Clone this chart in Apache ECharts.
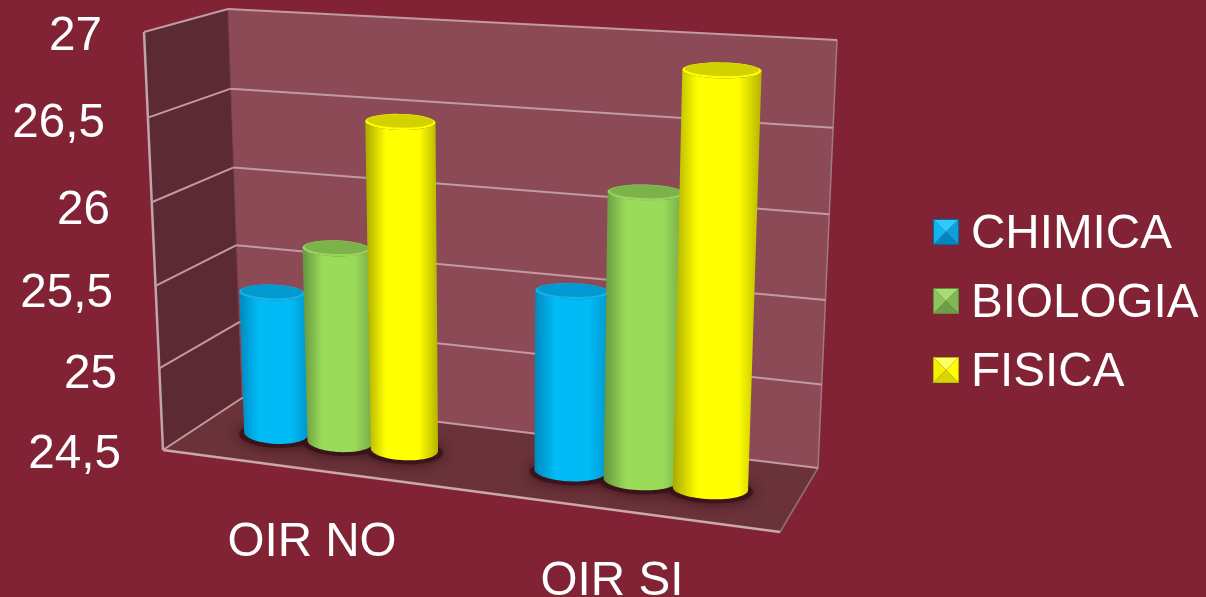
<!DOCTYPE html>
<html><head><meta charset="utf-8">
<style>html,body{margin:0;padding:0;background:#812335}#c{width:1206px;height:597px}</style>
<script src="https://cdn.jsdelivr.net/npm/echarts@6/dist/echarts.min.js"></script>
</head><body><div id="c"></div>
<script>
const categories = ['OIR NO', 'OIR SI'];
const chimica = [25.38, 25.57];
const biologia = [25.69, 26.18];
const fisica = [26.48, 26.9];
const yTicks = [24.5, 25, 25.5, 26, 26.5, 27];
const yTickLabels = ['24,5', '25', '25,5', '26', '26,5', '27'];
const seriesNames = ['CHIMICA', 'BIOLOGIA', 'FISICA'];
const seriesValues = [chimica, biologia, fisica];

// styling
const BG = '#812335';
const FONT = '"Liberation Sans", Arial, sans-serif';
const FS = 47.6;
const paints = [
  {edgeL:'#0088BE', mid:'#00BBF6', edgeR:'#0096CE', cap:'#0099D0', rim:'#12B6EE'},
  {edgeL:'#64963E', mid:'#9BDB5A', edgeR:'#74A848', cap:'#7CB24A', rim:'#9AD45E'},
  {edgeL:'#A8A800', mid:'#FFFF00', edgeR:'#B4B400', cap:'#D2D200', rim:'#FFFF00'}
];
const facets = [
  ['#2BCBFF','#10B5EE','#0C9FD8','#0087C0','#006D9F'],
  ['#A8DC72','#8CC460','#80B858','#6E9F48','#5F8F3C'],
  ['#FFFF66','#F0F000','#FFFF00','#D6D600','#B8B800']
];
function iconUri(f){
  const s = '<svg xmlns="http://www.w3.org/2000/svg" width="26" height="26">'
   + '<polygon points="0,0 26,0 13,13" fill="'+f[0]+'"/><polygon points="0,0 0,26 13,13" fill="'+f[1]+'"/>'
   + '<polygon points="26,0 26,26 13,13" fill="'+f[2]+'"/><polygon points="0,26 26,26 13,13" fill="'+f[3]+'"/>'
   + '<rect x=".5" y=".5" width="25" height="25" fill="none" stroke="'+f[4]+'"/></svg>';
  return 'image://data:image/svg+xml;charset=utf-8,' + encodeURIComponent(s);
}

// perspective box: screen corners of the 3D chart frame
const C = {
  flb:[163,450], frb:[780,532], blb:[242,398], brb:[818,468],
  flt:[144,32],  frt:[795,76],  blt:[228,9],   brt:[837,40]
};
function lerp(a,b,t){return a+(b-a)*t;}
function lerp2(a,b,t){return [lerp(a[0],b[0],t),lerp(a[1],b[1],t)];}
function project(u,v,w){
  const vv = v - 0.03*v*(1-v);
  const fb = lerp2(C.flb,C.frb,u), bb = lerp2(C.blb,C.brb,u);
  const ft = lerp2(C.flt,C.frt,u), bt = lerp2(C.blt,C.brt,u);
  return lerp2(lerp2(fb,ft,vv), lerp2(bb,bt,vv), w);
}
function toUV(pt,cs){
  return [(pt[0]-cs.x)/cs.width, (cs.y+cs.height-pt[1])/cs.height];
}
function ellipse(cx,cy,hx,hy,ry,from,to,n){
  const out=[];
  for(let i=0;i<=n;i++){
    const t=from+(to-from)*i/n;
    out.push([cx+Math.cos(t)*hx, cy+Math.cos(t)*hy*0.3+Math.sin(t)*ry]);
  }
  return out;
}
const BAR_DEPTH = 0.5, U_SHIFT = [-0.019,-0.016], BAR_STEP = [0.215,0.235];
function barGeom(api,params,si){
  const cs = params.coordSys;
  const ci = api.value(0);
  const top = api.coord([ci,api.value(1)]);
  const base = api.coord([ci,yTicks[0]]);
  const band = api.size([1,0])[0];
  const x = top[0] + (si-1)*BAR_STEP[ci]*band;
  const u = toUV([x,top[1]],cs)[0] + U_SHIFT[ci];
  const vTop = toUV(top,cs)[1], vBase = toUV(base,cs)[1];
  const r = 0.052 + 0.013*u;
  return {
    tl:project(u-r,vTop,BAR_DEPTH), tr:project(u+r,vTop,BAR_DEPTH),
    bl:project(u-r,vBase,BAR_DEPTH), br:project(u+r,vBase,BAR_DEPTH),
    ryTop:8, ryBot:10.5
  };
}
function renderBar(si){
  return function(params,api){
    const g = barGeom(api,params,si), p = paints[si];
    const tc=[(g.tl[0]+g.tr[0])/2,(g.tl[1]+g.tr[1])/2], bc=[(g.bl[0]+g.br[0])/2,(g.bl[1]+g.br[1])/2];
    const th=[(g.tr[0]-g.tl[0])/2,(g.tr[1]-g.tl[1])/2], bh=[(g.br[0]-g.bl[0])/2,(g.br[1]-g.bl[1])/2];
    const body = ellipse(bc[0],bc[1],bh[0],bh[1],g.ryBot,Math.PI,0,32)
      .concat(ellipse(tc[0],tc[1],th[0],th[1],g.ryTop,0,Math.PI,24));
    return {type:'group',children:[
      {type:'polygon',shape:{points:body},style:{fill:{type:'linear',x:0,y:0,x2:1,y2:0,colorStops:[
        {offset:0,color:p.edgeL},{offset:.28,color:p.mid},{offset:.74,color:p.mid},{offset:1,color:p.edgeR}]}}},
      {type:'polygon',shape:{points:ellipse(tc[0],tc[1],th[0],th[1],g.ryTop,0,2*Math.PI,40)},style:{fill:p.rim}},
      {type:'polygon',shape:{points:ellipse(tc[0],tc[1]-1,th[0]*.94,th[1]*.94,g.ryTop*.84,0,2*Math.PI,40)},style:{fill:p.cap}}
    ]};
  };
}
function renderShadow(params,api){
  const si = api.value(2);
  const g = barGeom(api,params,si);
  const bc=[(g.bl[0]+g.br[0])/2,(g.bl[1]+g.br[1])/2+2], bh=[(g.br[0]-g.bl[0])/2+5,(g.br[1]-g.bl[1])/2];
  return {type:'polygon',shape:{points:ellipse(bc[0],bc[1],bh[0],bh[1],g.ryBot+2,0,2*Math.PI,40)},
    style:{fill:'rgba(58,18,26,.85)',shadowBlur:12,shadowColor:'rgba(50,14,22,.95)'}};
}
function renderWalls(params,api){
  const cs = params.coordSys;
  const v = toUV(api.coord([0,api.value(1)]),cs)[1];
  const kids=[];
  const line=(a,b,c,w)=>({type:'line',shape:{x1:a[0],y1:a[1],x2:b[0],y2:b[1]},style:{stroke:c,lineWidth:w}});
  if(params.dataIndex===0){
    kids.push({type:'polygon',shape:{points:[C.blb,C.brb,C.brt,C.blt]},style:{fill:'#8C4A56'}});
    kids.push({type:'polygon',shape:{points:[C.flb,C.blb,C.blt,C.flt]},style:{fill:'#5C2A33'}});
    kids.push({type:'polygon',shape:{points:[C.flb,C.frb,C.brb,C.blb]},style:{fill:'#6A3239'}});
    kids.push(line(C.flb,C.flt,'#BFA5AA',2.5));
    kids.push(line(C.brb,C.brt,'#A07A82',1.5));
    kids.push(line(C.frb,C.brb,'#8F7075',1.5));
    kids.push(line(C.blb,C.blt,'#7A4650',1));
    kids.push(line(C.flb,C.frb,'#C9A8AE',2.5));
  }
  kids.push(line(project(0,v,1),project(1,v,1),'#C39AA2',2));
  kids.push(line(project(0,v,0),project(0,v,1),'#C39AA2',2));
  return {type:'group',children:kids};
}

const yRich = {};
const yPadRight = [0,4,8,11,16,19];
const yShift = [2.5,6.5,9.5,9.5,6.5,2.5];
yTicks.forEach((t,i)=>{
  yRich['t'+i] = {fontSize:FS,fontFamily:FONT,color:'#fff',align:'right',padding:[yShift[i]*2,yPadRight[i],0,0]};
});

const chart = echarts.init(document.getElementById('c'),null,{renderer:'canvas'});
const shadowData = [];
seriesValues.forEach((arr,si)=>arr.forEach((val,ci)=>shadowData.push([ci,val,si])));
chart.setOption({
  animation:false,
  backgroundColor:BG,
  grid:{left:162,top:34,width:600,height:418,containLabel:false,outerBoundsMode:'none'},
  legend:{
    orient:'vertical',left:928,top:206,itemWidth:26,itemHeight:26,itemGap:21,
    selectedMode:false,
    formatter:'{a|{name}}',
    textStyle:{color:'#fff',fontSize:FS,fontFamily:FONT,padding:[0,0,0,7],
      rich:{a:{color:'#fff',fontSize:FS,fontFamily:FONT,padding:[6,0,0,0]}}},
    data:seriesNames.map((n,i)=>({name:n,icon:iconUri(facets[i])}))
  },
  xAxis:{
    type:'category',data:categories,
    axisLine:{show:false},axisTick:{show:false},splitLine:{show:false},
    axisLabel:{
      interval:0,margin:67,
      formatter:(v,i)=>'{c'+i+'|'+v+'}',
      rich:{
        c0:{fontSize:FS,fontFamily:FONT,color:'#fff'},
        c1:{fontSize:FS,fontFamily:FONT,color:'#fff',padding:[39,0,0,0]}
      }
    }
  },
  yAxis:{
    type:'value',min:24.5,max:27,interval:0.5,
    axisLine:{show:false},axisTick:{show:false},splitLine:{show:false},
    axisLabel:{
      margin:41,
      formatter:(v)=>{const i=yTicks.indexOf(v);return '{t'+i+'|'+yTickLabels[i]+'}';},
      rich:yRich
    }
  },
  series:[
    {type:'custom',name:'walls',z:1,silent:true,data:yTicks.map(t=>[0,t]),renderItem:renderWalls,clip:false},
    {type:'custom',name:'shadows',z:2,silent:true,data:shadowData,renderItem:renderShadow,clip:false}
  ].concat(seriesNames.map((n,i)=>({
    type:'custom',name:n,z:3+i,silent:true,clip:false,
    itemStyle:{color:paints[i].mid},
    data:seriesValues[i].map((val,ci)=>[ci,val]),
    renderItem:renderBar(i)
  })))
});
</script></body></html>
